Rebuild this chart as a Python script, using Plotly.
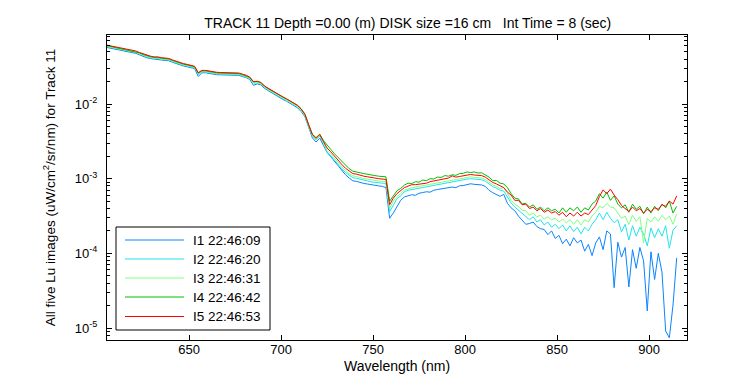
import plotly.graph_objects as go

wavelength = list(range(605, 917, 2))

I1 = [5.74e-2, 5.61e-2, 5.48e-2, 5.35e-2, 5.23e-2, 5.12e-2, 4.99e-2, 4.88e-2, 4.77e-2, 4.56e-2,
      4.35e-2, 4.16e-2, 4.06e-2, 3.97e-2, 3.97e-2, 3.88e-2, 3.83e-2, 3.79e-2, 3.62e-2, 3.46e-2,
      3.30e-2, 3.23e-2, 3.15e-2, 3.08e-2, 2.98e-2, 2.34e-2, 2.62e-2, 2.62e-2, 2.56e-2, 2.50e-2,
      2.47e-2, 2.46e-2, 2.46e-2, 2.46e-2, 2.45e-2, 2.45e-2, 2.42e-2, 2.33e-2, 2.26e-2, 2.13e-2,
      1.78e-2, 1.86e-2, 1.81e-2, 1.62e-2, 1.51e-2, 1.40e-2, 1.30e-2, 1.23e-2, 1.15e-2, 1.09e-2,
      1.02e-2, 9.49e-3, 8.88e-3, 7.91e-3, 6.73e-3, 4.88e-3, 3.52e-3, 3.10e-3, 3.50e-3, 2.80e-3,
      2.25e-3, 1.97e-3, 1.70e-3, 1.49e-3, 1.29e-3, 1.13e-3, 1.02e-3, 9.36e-4, 9.20e-4, 8.88e-4,
      8.64e-4, 8.48e-4, 8.24e-4, 8.16e-4, 8.00e-4, 7.91e-4, 7.60e-4, 2.95e-4, 3.47e-4, 4.27e-4,
      5.13e-4, 5.70e-4, 5.96e-4, 6.10e-4, 6.00e-4, 6.38e-4, 6.53e-4, 6.68e-4, 6.60e-4, 7.00e-4,
      7.16e-4, 7.33e-4, 7.50e-4, 7.65e-4, 7.73e-4, 7.60e-4, 8.03e-4, 8.10e-4, 8.40e-4, 8.55e-4,
      8.40e-4, 8.40e-4, 8.25e-4, 7.88e-4, 7.00e-4, 6.50e-4, 6.20e-4, 5.80e-4, 6.17e-4, 4.68e-4,
      4.07e-4, 3.72e-4, 3.16e-4, 2.82e-4, 2.45e-4, 2.51e-4, 2.63e-4, 2.29e-4, 2.14e-4, 2.09e-4,
      1.78e-4, 2.00e-4, 1.58e-4, 1.74e-4, 1.35e-4, 1.55e-4, 1.26e-4, 1.62e-4, 1.38e-4, 1.51e-4,
      1.07e-4, 1.32e-4, 9.33e-5, 1.38e-4, 1.66e-4, 1.12e-4, 2.00e-4, 1.82e-4, 3.47e-5, 1.41e-4,
      8.91e-5, 1.20e-4, 3.55e-5, 1.12e-4, 6.31e-5, 1.20e-4, 7.94e-5, 1.70e-5, 1.05e-4, 4.47e-5,
      1.00e-4, 5.62e-5, 9.12e-6, 7.41e-6, 2.04e-5, 8.71e-5]

I2 = [5.89e-2, 5.76e-2, 5.62e-2, 5.49e-2, 5.37e-2, 5.25e-2, 5.13e-2, 5.01e-2, 4.90e-2, 4.68e-2,
      4.47e-2, 4.27e-2, 4.17e-2, 4.08e-2, 4.08e-2, 3.98e-2, 3.93e-2, 3.89e-2, 3.71e-2, 3.55e-2,
      3.39e-2, 3.31e-2, 3.24e-2, 3.16e-2, 3.06e-2, 2.50e-2, 2.69e-2, 2.69e-2, 2.63e-2, 2.57e-2,
      2.54e-2, 2.52e-2, 2.52e-2, 2.52e-2, 2.51e-2, 2.51e-2, 2.48e-2, 2.40e-2, 2.32e-2, 2.19e-2,
      1.91e-2, 1.91e-2, 1.86e-2, 1.66e-2, 1.55e-2, 1.44e-2, 1.34e-2, 1.26e-2, 1.18e-2, 1.12e-2,
      1.05e-2, 9.74e-3, 9.12e-3, 8.13e-3, 6.91e-3, 5.01e-3, 3.71e-3, 3.31e-3, 3.71e-3, 3.02e-3,
      2.26e-3, 2.02e-3, 1.76e-3, 1.57e-3, 1.36e-3, 1.21e-3, 1.11e-3, 1.03e-3, 1.01e-3, 9.77e-4,
      9.50e-4, 9.33e-4, 9.06e-4, 8.98e-4, 8.80e-4, 8.70e-4, 8.60e-4, 3.60e-4, 4.50e-4, 5.40e-4,
      5.90e-4, 6.68e-4, 6.99e-4, 7.15e-4, 7.32e-4, 7.49e-4, 7.66e-4, 7.84e-4, 8.03e-4, 8.21e-4,
      8.40e-4, 8.60e-4, 8.80e-4, 8.98e-4, 9.06e-4, 9.24e-4, 9.42e-4, 9.68e-4, 9.86e-4, 1.00e-3,
      9.86e-4, 9.86e-4, 9.68e-4, 9.24e-4, 8.40e-4, 7.84e-4, 7.49e-4, 6.99e-4, 6.84e-4, 5.69e-4,
      4.73e-4, 4.17e-4, 3.80e-4, 3.39e-4, 3.16e-4, 2.82e-4, 3.09e-4, 2.63e-4, 2.82e-4, 2.40e-4,
      2.63e-4, 2.24e-4, 2.45e-4, 2.14e-4, 2.40e-4, 2.00e-4, 2.34e-4, 1.95e-4, 2.24e-4, 1.82e-4,
      2.24e-4, 2.00e-4, 2.45e-4, 2.82e-4, 3.47e-4, 2.82e-4, 3.55e-4, 2.95e-4, 2.57e-4, 2.82e-4,
      1.95e-4, 2.45e-4, 1.51e-4, 2.34e-4, 1.70e-4, 2.24e-4, 1.82e-4, 1.26e-4, 2.19e-4, 1.62e-4,
      2.14e-4, 1.70e-4, 2.34e-4, 1.17e-4, 2.04e-4, 2.34e-4]

I3 = [5.95e-2, 5.82e-2, 5.68e-2, 5.55e-2, 5.42e-2, 5.31e-2, 5.18e-2, 5.07e-2, 4.95e-2, 4.73e-2,
      4.52e-2, 4.31e-2, 4.22e-2, 4.12e-2, 4.12e-2, 4.02e-2, 3.98e-2, 3.93e-2, 3.75e-2, 3.59e-2,
      3.43e-2, 3.35e-2, 3.27e-2, 3.19e-2, 3.09e-2, 2.54e-2, 2.72e-2, 2.72e-2, 2.65e-2, 2.60e-2,
      2.57e-2, 2.55e-2, 2.55e-2, 2.55e-2, 2.54e-2, 2.54e-2, 2.51e-2, 2.42e-2, 2.34e-2, 2.21e-2,
      1.93e-2, 1.93e-2, 1.88e-2, 1.68e-2, 1.56e-2, 1.46e-2, 1.35e-2, 1.27e-2, 1.20e-2, 1.13e-2,
      1.06e-2, 9.84e-3, 9.22e-3, 8.21e-3, 6.99e-3, 5.07e-3, 3.75e-3, 3.35e-3, 3.75e-3, 3.05e-3,
      2.39e-3, 2.13e-3, 1.86e-3, 1.66e-3, 1.44e-3, 1.28e-3, 1.17e-3, 1.09e-3, 1.07e-3, 1.03e-3,
      1.00e-3, 9.86e-4, 9.58e-4, 9.49e-4, 9.30e-4, 9.20e-4, 9.09e-4, 4.00e-4, 5.00e-4, 5.80e-4,
      6.30e-4, 7.06e-4, 7.38e-4, 7.56e-4, 7.74e-4, 7.91e-4, 8.10e-4, 8.29e-4, 8.48e-4, 8.68e-4,
      8.88e-4, 9.09e-4, 9.30e-4, 9.49e-4, 9.58e-4, 9.77e-4, 9.95e-4, 1.02e-3, 1.04e-3, 1.06e-3,
      1.04e-3, 1.04e-3, 1.02e-3, 9.77e-4, 8.88e-4, 8.29e-4, 7.91e-4, 7.38e-4, 7.59e-4, 6.46e-4,
      5.13e-4, 4.57e-4, 4.27e-4, 3.80e-4, 3.72e-4, 3.24e-4, 3.47e-4, 3.09e-4, 3.24e-4, 2.88e-4,
      3.09e-4, 2.82e-4, 2.95e-4, 2.63e-4, 2.88e-4, 2.57e-4, 2.82e-4, 2.45e-4, 2.82e-4, 2.40e-4,
      2.82e-4, 2.63e-4, 3.16e-4, 3.55e-4, 4.27e-4, 4.07e-4, 4.68e-4, 4.17e-4, 4.07e-4, 3.47e-4,
      2.95e-4, 3.16e-4, 2.45e-4, 3.24e-4, 2.69e-4, 3.09e-4, 1.38e-4, 2.95e-4, 2.63e-4, 3.09e-4,
      2.69e-4, 3.24e-4, 2.82e-4, 3.16e-4, 2.45e-4, 3.39e-4]

I4 = [6.08e-2, 5.94e-2, 5.80e-2, 5.66e-2, 5.54e-2, 5.42e-2, 5.29e-2, 5.17e-2, 5.05e-2, 4.83e-2,
      4.61e-2, 4.40e-2, 4.30e-2, 4.21e-2, 4.21e-2, 4.11e-2, 4.06e-2, 4.01e-2, 3.83e-2, 3.66e-2,
      3.50e-2, 3.42e-2, 3.34e-2, 3.26e-2, 3.15e-2, 2.59e-2, 2.78e-2, 2.78e-2, 2.71e-2, 2.65e-2,
      2.62e-2, 2.60e-2, 2.60e-2, 2.60e-2, 2.59e-2, 2.59e-2, 2.56e-2, 2.47e-2, 2.39e-2, 2.26e-2,
      1.97e-2, 2.02e-2, 1.94e-2, 1.73e-2, 1.61e-2, 1.50e-2, 1.40e-2, 1.32e-2, 1.24e-2, 1.17e-2,
      1.10e-2, 1.03e-2, 9.60e-3, 8.60e-3, 7.30e-3, 5.30e-3, 3.95e-3, 3.55e-3, 3.95e-3, 3.25e-3,
      2.78e-3, 2.47e-3, 2.16e-3, 1.92e-3, 1.67e-3, 1.49e-3, 1.36e-3, 1.26e-3, 1.24e-3, 1.20e-3,
      1.17e-3, 1.14e-3, 1.11e-3, 1.10e-3, 1.08e-3, 1.07e-3, 1.06e-3, 5.00e-4, 6.00e-4, 6.90e-4,
      7.40e-4, 8.20e-4, 8.70e-4, 8.60e-4, 9.10e-4, 9.00e-4, 9.60e-4, 9.40e-4, 1.00e-3, 9.90e-4,
      1.05e-3, 1.04e-3, 1.10e-3, 1.08e-3, 1.13e-3, 1.11e-3, 1.17e-3, 1.18e-3, 1.23e-3, 1.21e-3,
      1.23e-3, 1.19e-3, 1.20e-3, 1.11e-3, 1.05e-3, 9.40e-4, 9.50e-4, 8.70e-4, 8.51e-4, 7.59e-4,
      6.31e-4, 5.50e-4, 5.37e-4, 4.57e-4, 4.68e-4, 4.17e-4, 4.47e-4, 3.89e-4, 4.17e-4, 3.72e-4,
      4.07e-4, 3.72e-4, 3.89e-4, 3.47e-4, 4.07e-4, 3.55e-4, 4.07e-4, 3.72e-4, 4.17e-4, 3.55e-4,
      4.07e-4, 3.80e-4, 4.57e-4, 5.01e-4, 6.31e-4, 5.50e-4, 6.61e-4, 5.13e-4, 5.89e-4, 4.57e-4,
      4.07e-4, 4.47e-4, 3.55e-4, 4.57e-4, 3.89e-4, 4.27e-4, 3.39e-4, 4.17e-4, 3.47e-4, 4.27e-4,
      3.72e-4, 4.57e-4, 4.07e-4, 5.01e-4, 3.47e-4, 4.27e-4]

I5 = [6.17e-2, 6.03e-2, 5.89e-2, 5.75e-2, 5.62e-2, 5.50e-2, 5.37e-2, 5.25e-2, 5.13e-2, 4.90e-2,
      4.68e-2, 4.47e-2, 4.37e-2, 4.27e-2, 4.27e-2, 4.17e-2, 4.12e-2, 4.07e-2, 3.89e-2, 3.72e-2,
      3.55e-2, 3.47e-2, 3.39e-2, 3.31e-2, 3.20e-2, 2.63e-2, 2.82e-2, 2.82e-2, 2.75e-2, 2.69e-2,
      2.66e-2, 2.64e-2, 2.64e-2, 2.64e-2, 2.63e-2, 2.63e-2, 2.60e-2, 2.51e-2, 2.43e-2, 2.29e-2,
      2.00e-2, 2.00e-2, 1.95e-2, 1.74e-2, 1.62e-2, 1.51e-2, 1.40e-2, 1.32e-2, 1.24e-2, 1.17e-2,
      1.10e-2, 1.02e-2, 9.55e-3, 8.51e-3, 7.24e-3, 5.25e-3, 3.89e-3, 3.47e-3, 3.89e-3, 3.16e-3,
      2.57e-3, 2.29e-3, 2.00e-3, 1.78e-3, 1.55e-3, 1.38e-3, 1.26e-3, 1.17e-3, 1.15e-3, 1.11e-3,
      1.08e-3, 1.06e-3, 1.03e-3, 1.02e-3, 1.00e-3, 9.89e-4, 9.77e-4, 4.47e-4, 5.50e-4, 6.31e-4,
      6.84e-4, 7.59e-4, 7.94e-4, 8.30e-4, 8.32e-4, 8.51e-4, 8.71e-4, 8.70e-4, 9.12e-4, 9.33e-4,
      9.55e-4, 9.77e-4, 1.00e-3, 1.02e-3, 1.09e-3, 1.05e-3, 1.07e-3, 1.10e-3, 1.12e-3, 1.14e-3,
      1.12e-3, 1.12e-3, 1.10e-3, 1.05e-3, 9.55e-4, 8.91e-4, 8.51e-4, 7.94e-4, 7.59e-4, 6.61e-4,
      6.03e-4, 5.13e-4, 5.13e-4, 4.47e-4, 4.57e-4, 3.98e-4, 4.17e-4, 3.72e-4, 3.98e-4, 3.55e-4,
      3.80e-4, 3.47e-4, 3.63e-4, 3.24e-4, 3.55e-4, 3.09e-4, 3.47e-4, 3.16e-4, 3.55e-4, 3.16e-4,
      3.47e-4, 3.31e-4, 3.80e-4, 4.37e-4, 5.75e-4, 7.08e-4, 6.31e-4, 7.24e-4, 6.03e-4, 5.25e-4,
      4.37e-4, 3.98e-4, 3.63e-4, 4.17e-4, 3.72e-4, 3.98e-4, 3.47e-4, 3.89e-4, 3.63e-4, 4.07e-4,
      3.89e-4, 4.47e-4, 4.27e-4, 5.01e-4, 4.57e-4, 5.89e-4]

series_names = ["I1 22:46:09", "I2 22:46:20", "I3 22:46:31", "I4 22:46:42", "I5 22:46:53"]
series_values = [I1, I2, I3, I4, I5]
series_colors = ["#0a84ff", "#22e4ec", "#80ff80", "#00c000", "#ff0000"]

x_ticks = [650, 700, 750, 800, 850, 900]
y_ticks = [1e-5, 1e-4, 1e-3, 1e-2]
y_ticktext = ["10<sup>-5</sup>", "10<sup>-4</sup>", "10<sup>-3</sup>", "10<sup>-2</sup>"]

FONT = "Liberation Sans, Arial, Helvetica, sans-serif"

# plot area in pixels (figure is 750 x 375)
PL, PR, PT, PB = 99, 679, 27, 332


def px(x):
    return (x - PL) / (PR - PL)


def py(y):
    return (PB - y) / (PB - PT)


fig = go.Figure()
for name, vals, col in zip(series_names, series_values, series_colors):
    fig.add_trace(go.Scatter(x=wavelength, y=vals, mode="lines", name=name,
                             line=dict(color=col, width=1), showlegend=False))

# legend drawn as a boxed key (long sample lines like the original)
shapes = [dict(type="rect", xref="paper", yref="paper",
               x0=px(108), x1=px(262), y0=py(322), y1=py(219),
               line=dict(color="black", width=1), fillcolor="white", layer="above")]
annotations = []
row_y = [232, 251, 270, 289, 308.5]
for name, col, ry in zip(series_names, series_colors, row_y):
    shapes.append(dict(type="line", xref="paper", yref="paper",
                       x0=px(117), x1=px(176), y0=py(ry), y1=py(ry),
                       line=dict(color=col, width=1), layer="above"))
    annotations.append(dict(xref="paper", yref="paper", x=px(183), y=py(ry),
                            xanchor="left", yanchor="middle", text=name,
                            showarrow=False, font=dict(size=13.5, color="black")))

# x-axis title placed explicitly below the tick labels
annotations.append(dict(xref="paper", yref="paper", x=0.5, y=py(358),
                        xanchor="center", yanchor="middle", text="Wavelength (nm)",
                        showarrow=False, font=dict(size=14, color="black")))

fig.update_layout(
    width=750, height=375,
    margin=dict(l=PL, r=750 - PR, t=PT, b=375 - PB, autoexpand=False),
    paper_bgcolor="white", plot_bgcolor="white",
    font=dict(family=FONT, size=13, color="black"),
    title=dict(text="TRACK 11 Depth =0.00 (m) DISK size =16 cm   Int Time = 8 (sec)",
               x=0.533, xanchor="center", y=0.96, yanchor="middle",
               font=dict(size=14, color="black")),
    showlegend=False,
    shapes=shapes,
    annotations=annotations,
)

fig.update_xaxes(range=[605.4, 920.6], tickvals=x_ticks, ticks="inside", ticklen=5,
                 tickcolor="black", showline=True, linecolor="black", linewidth=1,
                 mirror="ticks", showgrid=False, zeroline=False, automargin=False,
                 tickfont=dict(size=13), ticklabelstandoff=-3)

fig.update_yaxes(type="log", range=[-5.16, -1.076], tickvals=y_ticks, ticktext=y_ticktext,
                 ticks="inside", ticklen=5, tickcolor="black", showline=True,
                 linecolor="black", linewidth=1, mirror="ticks", showgrid=False,
                 zeroline=False, automargin=False, tickfont=dict(size=13),
                 minor=dict(ticks="inside", ticklen=3, tickcolor="black", dtick="D1",
                            showgrid=False),
                 title=dict(text="All five Lu images (uW/cm<sup>2</sup>/sr/nm) for Track 11",
                            standoff=16, font=dict(size=13.5)),
                 ticklabelstandoff=6)

fig.write_html("out.html")
